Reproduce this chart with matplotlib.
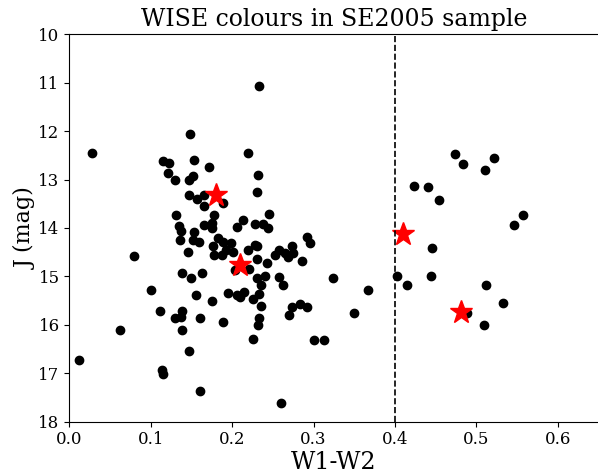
import matplotlib
matplotlib.use("Agg")
import matplotlib.pyplot as plt

plt.rcParams['font.family'] = ['DejaVu Serif']

w1w2 = [0.233, 0.148, 0.028, 0.219, 0.115, 0.122, 0.153, 0.172, 0.121, 0.130,
        0.147, 0.152, 0.232, 0.230, 0.147, 0.157, 0.166, 0.166, 0.189, 0.178,
        0.131, 0.135, 0.153, 0.166, 0.175, 0.206, 0.213, 0.228, 0.245, 0.238,
        0.244, 0.137, 0.175, 0.136, 0.152, 0.159, 0.146, 0.183, 0.176, 0.189,
        0.199, 0.193, 0.178, 0.188, 0.201, 0.219, 0.228, 0.230, 0.231, 0.204,
        0.221, 0.079, 0.139, 0.163, 0.150, 0.230, 0.100, 0.155, 0.175, 0.195,
        0.206, 0.210, 0.215, 0.225, 0.111, 0.139, 0.130, 0.137, 0.161, 0.189,
        0.139, 0.062, 0.225, 0.233, 0.232, 0.147, 0.012, 0.114, 0.115, 0.160,
        0.243, 0.253, 0.257, 0.265, 0.268, 0.274, 0.275, 0.286, 0.292, 0.295,
        0.236, 0.240, 0.258, 0.263, 0.324, 0.367, 0.233, 0.236, 0.260, 0.270,
        0.274, 0.283, 0.292, 0.301, 0.313, 0.350,
        0.474, 0.483, 0.521, 0.510, 0.423, 0.441, 0.454, 0.557, 0.546, 0.446,
        0.403, 0.444, 0.415, 0.512, 0.533, 0.489, 0.509]
jmag = [11.07, 12.07, 12.45, 12.45, 12.62, 12.66, 12.59, 12.75, 12.87, 13.00,
        13.02, 12.92, 12.91, 13.26, 13.31, 13.40, 13.54, 13.33, 13.49, 13.73,
        13.74, 13.97, 14.08, 13.94, 13.90, 13.98, 13.83, 13.92, 13.71, 13.92,
        14.00, 14.06, 14.01, 14.26, 14.25, 14.30, 14.50, 14.21, 14.37, 14.30,
        14.31, 14.46, 14.55, 14.57, 14.49, 14.46, 14.35, 14.37, 14.64, 14.87,
        14.85, 14.59, 14.93, 14.93, 15.04, 15.04, 15.28, 15.38, 15.51, 15.34,
        15.38, 15.43, 15.32, 15.47, 15.72, 15.72, 15.87, 15.85, 15.86, 15.95,
        16.10, 16.10, 16.29, 15.87, 16.01, 16.54, 16.72, 16.94, 17.02, 17.36,
        14.72, 14.55, 14.46, 14.52, 14.61, 14.37, 14.52, 14.68, 14.18, 14.32,
        15.17, 14.99, 15.02, 15.17, 15.03, 15.28, 15.37, 15.61, 17.62, 15.79,
        15.63, 15.57, 15.63, 16.32, 16.31, 15.76,
        12.47, 12.68, 12.56, 12.81, 13.13, 13.16, 13.43, 13.73, 13.93, 14.42,
        14.99, 14.99, 15.18, 15.19, 15.55, 15.75, 16.00]

star_w1w2 = [0.18, 0.21, 0.41, 0.481]
star_j = [13.33, 14.77, 14.13, 15.73]

cut = 0.4

fig = plt.figure(figsize=(5.98, 4.75), dpi=100)
ax = fig.add_axes([69.3 / 598, 1 - 421.5 / 475, (598.6 - 69.3) / 598, (421.5 - 34.3) / 475])

ax.plot(w1w2, jmag, 'o', color='black', markersize=6, linestyle='none')
ax.plot(star_w1w2, star_j, '*', color='red', markersize=17, linestyle='none')
ax.axvline(cut, color='black', linestyle='--', linewidth=1.2)

ax.set_xlim(0, 0.65)
ax.set_ylim(18, 10)
ax.set_xticks([0.0, 0.1, 0.2, 0.3, 0.4, 0.5, 0.6])
ax.set_yticks([10, 11, 12, 13, 14, 15, 16, 17, 18])
ax.tick_params(labelsize=12)
ax.set_xlabel('W1-W2', fontsize=17, labelpad=2)
ax.set_ylabel('J (mag)', fontsize=16, labelpad=1)
ax.set_title('WISE colours in SE2005 sample', fontsize=17, pad=6)

fig.savefig('out.png', dpi=100)
